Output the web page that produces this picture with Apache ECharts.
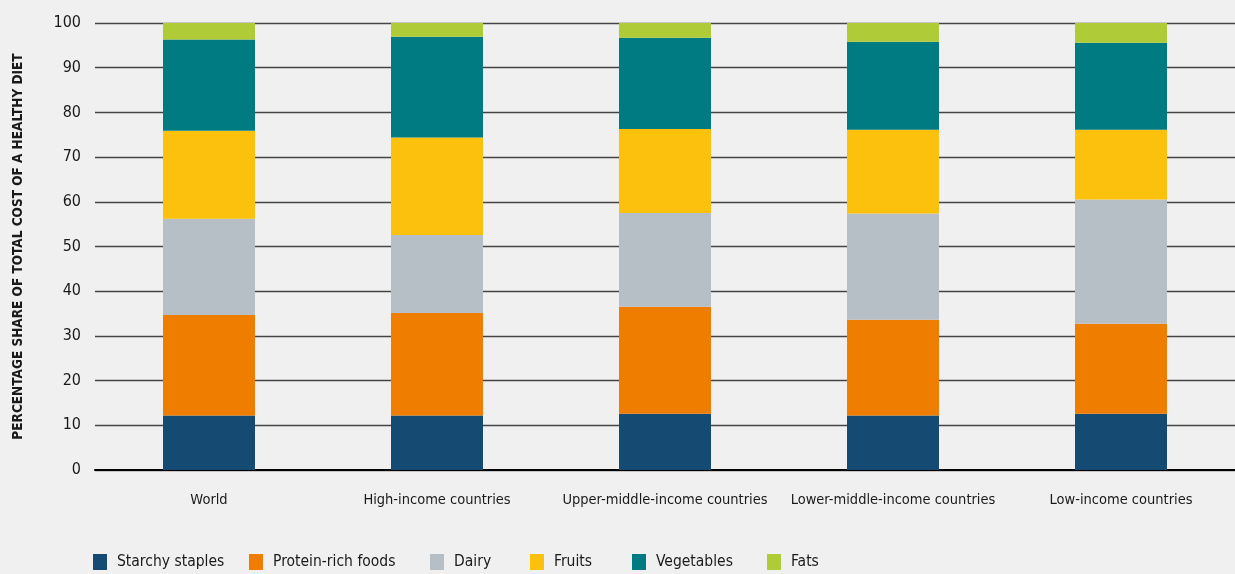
<!DOCTYPE html>
<html>
<head>
<meta charset="utf-8">
<script src="https://cdn.jsdelivr.net/npm/echarts@6/dist/echarts.min.js"></script>
<style>
html,body{margin:0;padding:0;background:#f0f0f0;}
#c{width:1235px;height:574px;}
</style>
</head>
<body>
<div id="c"></div>
<script>
const categories = ["World", "High-income countries", "Upper-middle-income countries", "Lower-middle-income countries", "Low-income countries"];
const seriesNames = ["Starchy staples", "Protein-rich foods", "Dairy", "Fruits", "Vegetables", "Fats"];
const starchy = [12.2, 12.2, 12.6, 12.2, 12.6];
const protein = [22.5, 22.9, 23.9, 21.4, 20.1];
const dairy = [21.5, 17.5, 21.0, 23.8, 27.8];
const fruits = [19.7, 21.8, 18.8, 18.7, 15.6];
const vegetables = [20.4, 22.5, 20.4, 19.7, 19.5];
const fats = [3.7, 3.1, 3.3, 4.2, 4.4];
const yTicks = [0, 10, 20, 30, 40, 50, 60, 70, 80, 90, 100];

const colors = ["#154a73", "#ef7d00", "#b7bfc6", "#fcc10d", "#007b82", "#afcb37"];
const values = [starchy, protein, dairy, fruits, vegetables, fats];
const legendLeft = [93, 249, 430, 530, 632, 767];
const FONT = "'Liberation Sans Narrow', 'DejaVu Sans Condensed', sans-serif";

const chart = echarts.init(document.getElementById('c'), null, {renderer: 'canvas'});
chart.setOption({
  backgroundColor: '#f0f0f0',
  animation: false,
  textStyle: {fontFamily: FONT},
  grid: {left: 95, width: 1147, top: 23, bottom: 104, containLabel: false},
  legend: seriesNames.map((n, i) => ({
    left: legendLeft[i], top: 554, padding: 0,
    icon: 'rect', itemWidth: 14, itemHeight: 16,
    textStyle: {fontFamily: FONT, fontSize: 15.5, color: '#1a1a1a', padding: [0, 0, 0, 5]},
    data: [n]
  })),
  xAxis: {
    type: 'category', data: categories,
    axisLine: {lineStyle: {color: '#000', width: 2}},
    axisTick: {show: false},
    axisLabel: {fontFamily: FONT, fontSize: 14.5, color: '#1a1a1a', margin: 23, interval: 0}
  },
  yAxis: {
    type: 'value', min: yTicks[0], max: yTicks[yTicks.length - 1], interval: 10,
    name: 'PERCENTAGE SHARE OF TOTAL COST OF A HEALTHY DIET',
    nameLocation: 'middle', nameGap: 70, nameRotate: 90,
    nameTextStyle: {fontFamily: FONT, fontSize: 13.5, fontWeight: 'bold', color: '#1a1a1a'},
    axisLine: {show: false}, axisTick: {show: false},
    axisLabel: {fontFamily: FONT, fontSize: 16, color: '#1a1a1a', margin: 14},
    splitLine: {lineStyle: {color: '#444', width: 1.3}}
  },
  series: seriesNames.map((n, i) => ({
    name: n, type: 'bar', stack: 'total', barWidth: 92,
    itemStyle: {color: colors[i]},
    data: values[i]
  }))
});
</script>
</body>
</html>
